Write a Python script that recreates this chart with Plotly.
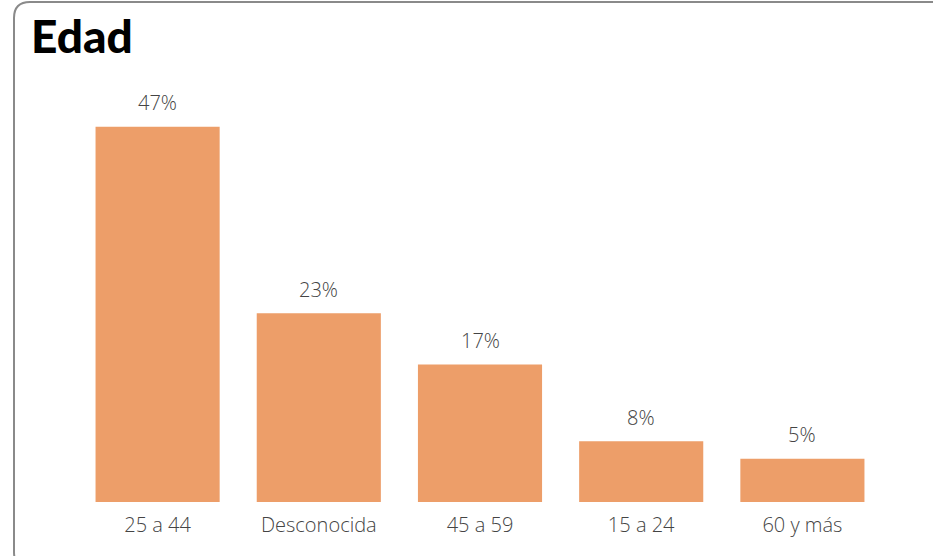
import plotly.graph_objects as go

categories = ["25 a 44", "Desconocida", "45 a 59", "15 a 24", "60 y más"]
values = [46.9, 23.6, 17.2, 7.6, 5.4]
labels = ["47%", "23%", "17%", "8%", "5%"]

W, H = 933, 556
ML, MR, MT, MB = 77, 50, 102, 54
PW, PH = W - ML - MR, H - MT - MB

def px(x):
    return (x - ML) / PW

def py(y):
    return (H - MB - y) / PH

fig = go.Figure(go.Bar(
    x=categories, y=values,
    marker=dict(color="#ED9E69", line=dict(width=0)),
    width=0.77, cliponaxis=False, hoverinfo="x+y",
))

for c, v, t in zip(categories, values, labels):
    fig.add_annotation(x=c, y=v, text=t, showarrow=False,
                       yanchor="middle", yshift=24,
                       font=dict(family="Open Sans, sans-serif", size=20, weight=300, color="#444444"))

# rounded border (left, top, bottom edges; right side runs off-canvas)
x0, y0, x1, y1, r = 14, 2, 960, 568, 16
path = (f"M {px(x1)},{py(y0)} L {px(x0 + r)},{py(y0)} "
        f"Q {px(x0)},{py(y0)} {px(x0)},{py(y0 + r)} "
        f"L {px(x0)},{py(y1 - r)} "
        f"Q {px(x0)},{py(y1)} {px(x0 + r)},{py(y1)} L {px(x1)},{py(y1)}")
fig.add_shape(type="path", path=path, xref="paper", yref="paper",
              line=dict(color="#8a8a8a", width=2), layer="below")

fig.update_layout(
    width=W, height=H,
    margin=dict(l=ML, r=MR, t=MT, b=MB),
    paper_bgcolor="white", plot_bgcolor="white",
    title=dict(text="Edad", x=31 / W, xanchor="left",
               y=1 - 37 / H, yanchor="middle",
               font=dict(family="Lato, sans-serif", size=46, weight=900, color="#000000")),
    xaxis=dict(showgrid=False, showline=False, zeroline=False,
               ticks="outside", ticklen=5, tickcolor="white",
               tickfont=dict(family="Open Sans, sans-serif", size=20, weight=300, color="#444444")),
    yaxis=dict(visible=False, range=[0, 50]),
    showlegend=False,
    bargap=0.23,
)

fig.write_html("out.html", config={"displayModeBar": False},
               post_script="document.body.style.margin='0';document.body.style.overflow='hidden';")
